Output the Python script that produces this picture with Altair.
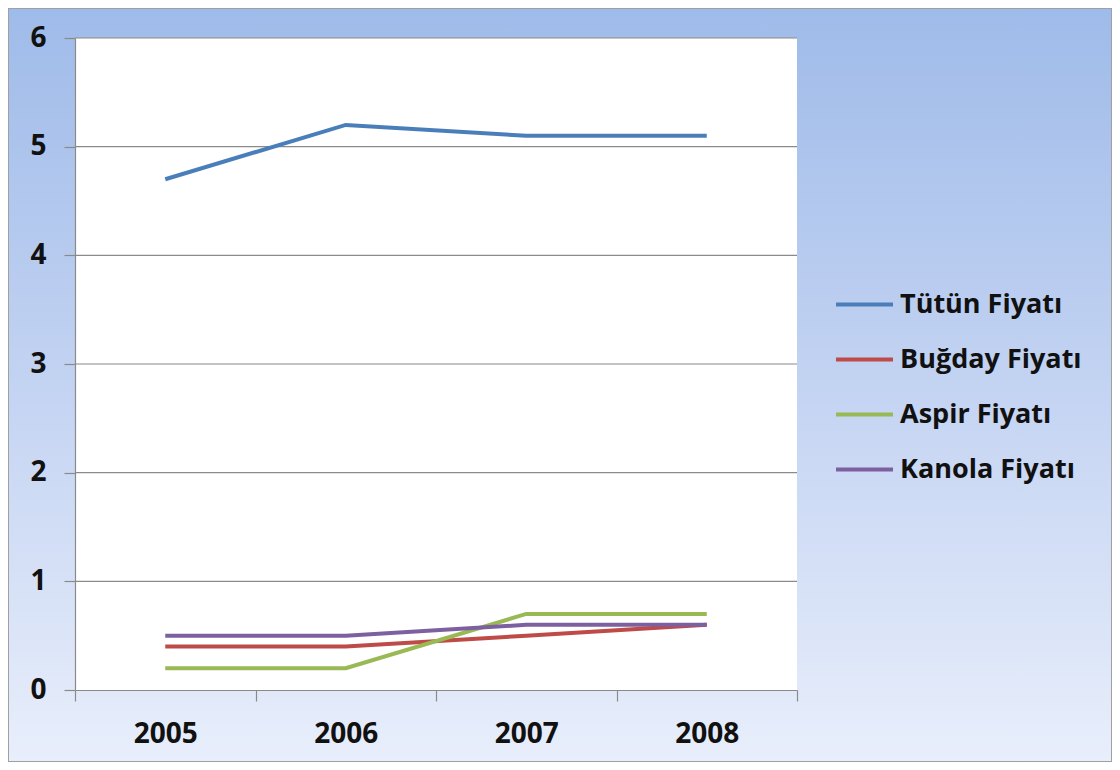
import altair as alt
import pandas as pd

# ---- data ----
years = ["2005", "2006", "2007", "2008"]
series_names = ["Tütün Fiyatı", "Buğday Fiyatı", "Aspir Fiyatı", "Kanola Fiyatı"]
tutun = [4.7, 5.2, 5.1, 5.1]
bugday = [0.4, 0.4, 0.5, 0.6]
aspir = [0.2, 0.2, 0.7, 0.7]
kanola = [0.5, 0.5, 0.6, 0.6]
y_ticks = [0, 1, 2, 3, 4, 5, 6]
colors = ["#4a7ebb", "#be4b48", "#98b954", "#7d60a0"]

rows = []
for name, vals in zip(series_names, [tutun, bugday, aspir, kanola]):
    for yr, v in zip(years, vals):
        rows.append({"year": yr, "series": name, "value": v})
df = pd.DataFrame(rows)
grid_df = pd.DataFrame({"value": y_ticks[1:]})
one_df = pd.DataFrame({"a": [0]})

# ---- layout (view coordinates) ----
PAD = 1
W, H = 1102, 752
X0, X1 = 75 - 8 - PAD, 797 - 8 - PAD
Y0, Y1 = 38 - 8 - PAD, 690 - 8 - PAD
FONT = "Open Sans"
AXIS_GRAY = "#8a8a8a"

x_scale = alt.Scale(type="band", domain=years, range=[X0, X1], paddingInner=0, paddingOuter=0)
y_scale = alt.Scale(domain=[0, 6], range=[Y1, Y0], nice=False, zero=False)

y_axis = alt.Axis(
    title=None,
    orient="left",
    offset=-X0,
    values=y_ticks,
    tickSize=11,
    tickColor=AXIS_GRAY,
    tickWidth=1.2,
    domainColor=AXIS_GRAY,
    domainWidth=1.2,
    labelFont=FONT,
    labelFontSize=28,
    labelFontWeight="bold",
    labelColor="#111111",
    labelPadding=18,
    labelBaseline="middle",
    grid=False,
    zindex=1,
)

x_axis = alt.Axis(
    title=None,
    orient="bottom",
    offset=-(H - Y1),
    tickBand="extent",
    tickSize=11,
    tickColor=AXIS_GRAY,
    tickWidth=1.2,
    domainColor=AXIS_GRAY,
    domainWidth=1.2,
    labelFont=FONT,
    labelFontSize=28,
    labelFontWeight="bold",
    labelColor="#111111",
    labelPadding=19,
    labelAngle=0,
    grid=False,
    zindex=1,
)

gradient = alt.LinearGradient(
    gradient="linear",
    x1=0, y1=0, x2=0, y2=1,
    stops=[
        alt.GradientStop(offset=0, color="#9fbbe9"),
        alt.GradientStop(offset=0.5, color="#c3d3f2"),
        alt.GradientStop(offset=1, color="#e8eefb"),
    ],
)

page_bg = alt.Chart(one_df).mark_rect(fill=gradient, strokeWidth=0).encode(
    x=alt.value(0), x2=alt.value(W), y=alt.value(0), y2=alt.value(H)
)

plot_bg = alt.Chart(one_df).mark_rect(fill="white", strokeWidth=0).encode(
    x=alt.value(X0), x2=alt.value(X1), y=alt.value(Y0), y2=alt.value(Y1)
)

grid = alt.Chart(grid_df).mark_rule(color=AXIS_GRAY, strokeWidth=1.2).encode(
    y=alt.Y("value:Q", scale=y_scale, axis=y_axis),
    x=alt.value(X0),
    x2=alt.value(X1),
)

lines = alt.Chart(df).mark_line(strokeWidth=4).encode(
    x=alt.X("year:N", scale=x_scale, sort=years, axis=x_axis),
    y=alt.Y("value:Q", scale=y_scale, axis=y_axis),
    color=alt.Color(
        "series:N",
        scale=alt.Scale(domain=series_names, range=colors),
        sort=series_names,
        legend=alt.Legend(
            title=None,
            orient="none",
            legendX=834 - 8 - PAD,
            legendY=274 - 8 - PAD,
            symbolType="stroke",
            symbolSize=3249,
            symbolStrokeWidth=4,
            labelFont=FONT,
            labelFontSize=27,
            labelFontWeight="bold",
            labelColor="#111111",
            labelOffset=5,
            labelLimit=400,
            rowPadding=11,
        ),
    ),
)

chart = (
    alt.layer(page_bg, plot_bg, grid, lines)
    .resolve_scale(y="shared", x="shared")
    .properties(width=W, height=H, autosize="none", padding=PAD)
    .configure_view(stroke="#a0a0a0", strokeWidth=2)
)

chart.save("out.html", embed_options={"renderer": "svg", "actions": False})
